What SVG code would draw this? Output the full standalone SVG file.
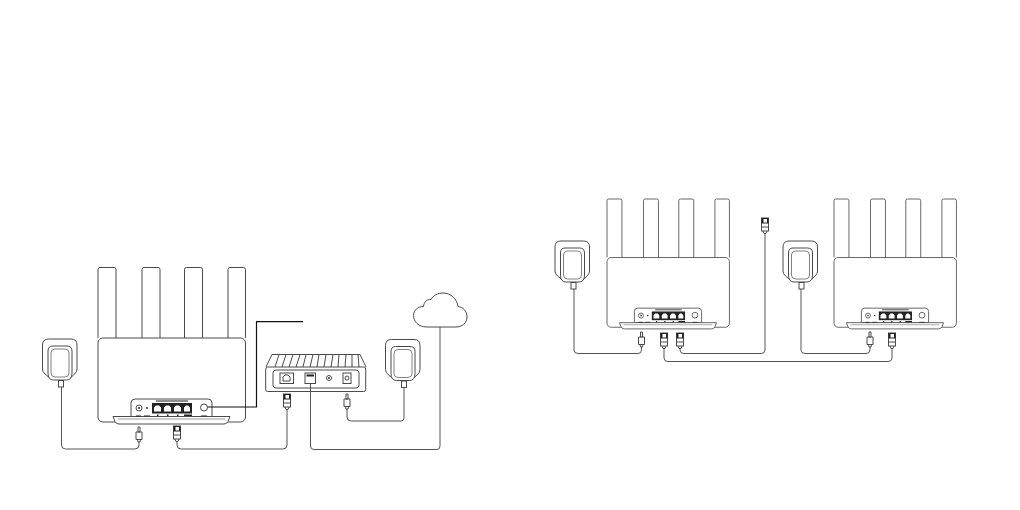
<svg xmlns="http://www.w3.org/2000/svg" width="1020" height="510" viewBox="0 0 1020 510">
<style>
.l{fill:none;stroke:#4a4a4a;stroke-width:1}
.w{fill:#fff;stroke:#4a4a4a;stroke-width:1}
.d{fill:#222;stroke:none}
.p{fill:#fff;stroke:none}
.c{fill:none;stroke:#555;stroke-width:1;stroke-linejoin:round}
.k{fill:none;stroke:#111;stroke-width:1.2}
</style>
<defs>
<g id="router">
<path class="l" d="M0 70.500V2Q0 0 2 0H16Q18 0 18 2V70.500M44 70.500V2Q44 0 46 0H60Q62 0 62 2V70.500M86.500 70.500V2Q86.500 0 88.500 0H102.500Q104.500 0 104.500 2V70.500M130 70.500V2Q130 0 132 0H145.500Q147.500 0 147.500 2V70.500"/>
<rect class="w" x="0" y="70.500" width="147.500" height="84" rx="5"/>
<path class="w" d="M33 149V135.500Q33 131.500 37 131.500H110Q114 131.500 114 135.500V149Z"/>
<path class="w" d="M15 149H132L130 154Q129 156.500 126 156.500H21Q18 156.500 17 154Z"/>
<path class="l" d="M20 151.500H127" stroke-opacity=".55"/>
<rect class="d" x="54" y="135.500" width="40" height="10.500"/>
<path class="p" d="M56 144V140L58 138H61L63 140V144ZM66 144V140L68 138H71L73 140V144ZM76 144V140L78 138H81L83 140V144ZM86 144V140L88 138H90L92 140V144Z"/>
<rect class="d" x="58" y="133" width="32" height="1"/>
<circle class="l" cx="41" cy="140.500" r="3"/><circle class="d" cx="41" cy="140.500" r="1"/>
<circle class="d" cx="49" cy="140.500" r=".9"/>
<circle class="l" cx="106" cy="140" r="3.500"/>
<rect class="d" x="38" y="148" width="5" height="1"/><rect class="d" x="46" y="148" width="6" height=".8"/>
<rect class="d" x="59" y="147" width="1.500" height="1.500"/><rect class="d" x="69" y="147" width="1.500" height="1.500"/><rect class="d" x="79" y="147" width="1.500" height="1.500"/><rect class="d" x="86" y="147" width="8" height="1.500"/>
<rect class="d" x="103" y="148" width="6" height=".8"/>
</g>
<g id="adapter">
<path class="l" d="M6 0H28.500Q34.500 0 34.500 6V30Q34.500 33 32 35L29 38H6L2.500 35Q0 33 0 30V6Q0 0 6 0Z"/>
<path class="w" d="M10 7H24.500Q29.500 7 29.500 12V34Q29.500 41 24 41H11Q5.500 41 5.500 34V12Q5.500 7 10 7Z"/>
<rect class="l" x="8.500" y="10" width="18" height="28" rx="4" stroke-opacity=".7"/>
<rect class="w" x="16" y="41.500" width="5" height="6.500"/>
</g>
<g id="rj45">
<rect class="w" x="-3.500" y="0" width="7" height="13"/>
<rect class="d" x="-3.500" y="0" width="7" height="5.500"/>
<rect class="p" x="-1.500" y="1" width="3.500" height="3.500"/>
<path class="l" d="M-3.500 9H3.500M-2 13L-1 15.500H1L2 13"/>
</g>
<g id="dc">
<path class="l" d="M-1 0V5H1V0ZM-3 5H3V12.500H-3ZM-1.500 12.500L-1 15H1L1.500 12.500"/>
</g>
</defs>
<g id="router-1"><use href="#router" x="98" y="267.500"/></g>
<g id="router-2"><use href="#router" transform="translate(607 199) scale(.83)"/></g>
<g id="router-3"><use href="#router" transform="translate(834 199) scale(.83)"/></g>
<g id="adapter-1"><use href="#adapter" x="42.500" y="339"/></g>
<g id="adapter-2"><use href="#adapter" x="385.500" y="339.500"/></g>
<g id="adapter-3"><use href="#adapter" x="555" y="241"/></g>
<g id="adapter-4"><use href="#adapter" x="783" y="241"/></g>
<g id="modem">
<path class="l" d="M266 367L272 354.500H360L366 367"/>
<path class="l" d="M275 367L279 354.500M282 367L286 354.500M289 367L293 354.500M296 367L300 354.500M303 367L306 354.500M310 367L313 354.500M317 367L319 354.500M324 367L326 354.500M331 367L333 354.500M338 367L339 354.500M345 367L346 354.500M352 367L352 354.500M359 367L358 354.500"/>
<rect class="w" x="265.700" y="367" width="100" height="24.500" rx="2"/>
<rect class="l" x="273" y="370" width="86" height="18" rx="3"/>
<rect class="l" x="280" y="373" width="13.500" height="10.500"/>
<path class="l" d="M283 381V377L285 375H288L290 377V381Z"/>
<rect class="l" x="305" y="373" width="10.500" height="10.500"/>
<rect class="d" x="306.500" y="374.500" width="7.500" height="2"/>
<circle class="l" cx="329" cy="378" r="2.500"/><circle class="d" cx="329" cy="378" r=".9"/>
<rect class="l" x="343" y="373" width="8" height="10.500"/>
<circle class="l" cx="347" cy="378" r="2"/>
</g>
<g id="cloud">
<path class="w" d="M427 327C418 327 413.500 321 413.500 315.500C413.500 310 418 306.500 423.500 306.500C424 302 427 299 431 299.500C433 295.500 438 293 443 293C451 293 457 299 458 306.500C463 307 467 311 467 317C467 323 462 327 456 327Z"/>
</g>
<g id="plugs">
<use href="#dc" x="139" y="427"/>
<use href="#rj45" x="177" y="426"/>
<use href="#rj45" x="287" y="394"/>
<use href="#dc" x="347" y="394"/>
<use href="#dc" x="641.500" y="332"/>
<use href="#rj45" x="664" y="333"/>
<use href="#rj45" x="680" y="333"/>
<use href="#rj45" x="765" y="218"/>
<use href="#dc" x="870" y="332"/>
<use href="#rj45" x="892" y="333"/>
</g>
<g id="connectors">
<path class="c" d="M61.500 387V445Q61.500 449 65.500 449H135Q139 449 139 445V442"/>
<path class="c" d="M177 441.500V445Q177 449 181 449H283Q287 449 287 445V409.500"/>
<path class="c" d="M404 387.500V418Q404 421 401 421H351Q347 421 347 417V409"/>
<path class="c" d="M310.500 383.500V446Q310.500 449.500 314 449.500H437Q440 449.500 440 446V327"/>
<path class="k" d="M207.500 407H256.500V321.700H303"/>
<path class="c" d="M574 289V350Q574 353.500 578 353.500H638Q641.500 353.500 641.500 350V347"/>
<path class="c" d="M680 348.500V350Q680 353.500 684 353.500H761Q765 353.500 765 350V233.500"/>
<path class="c" d="M664 348.500V358Q664 361.500 668 361.500H888Q892 361.500 892 358V348.500"/>
<path class="c" d="M801 289V350Q801 353.500 805 353.500H866Q870 353.500 870 350V347"/>
</g>
</svg>
